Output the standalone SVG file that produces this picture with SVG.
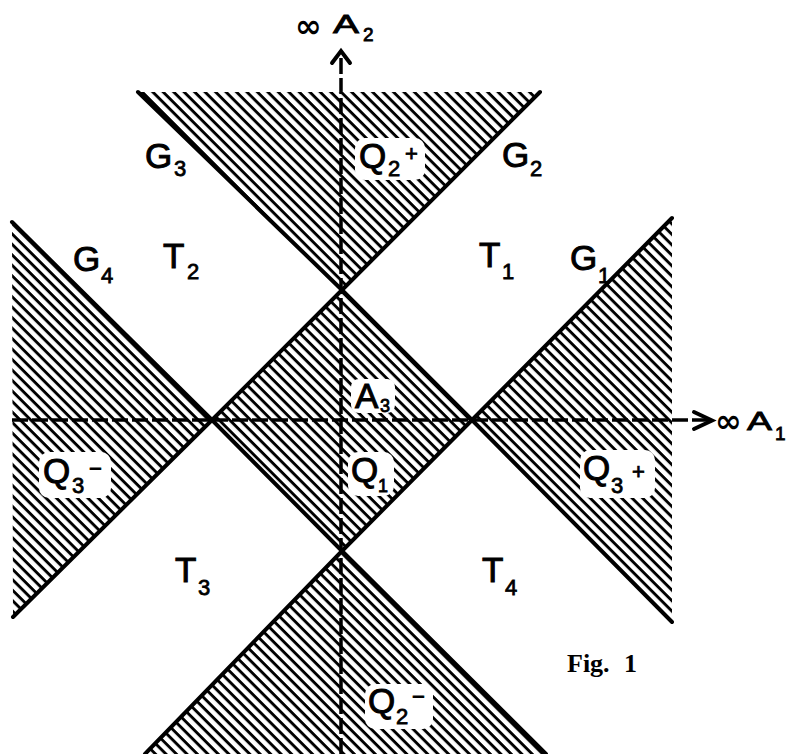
<svg xmlns="http://www.w3.org/2000/svg" width="787" height="754" viewBox="0 0 787 754">
<defs>
<pattern id="hatch" width="12" height="7.4" patternUnits="userSpaceOnUse" patternTransform="rotate(45)">
<rect x="0" y="0" width="12" height="2.9" fill="#000"/>
</pattern>
</defs>
<style>
.sh{fill:url(#hatch);stroke:none}
.bg{fill:#fff;stroke:none}
.edge{fill:none;stroke:#000;stroke-width:4;stroke-linecap:round;stroke-linejoin:round}
.axis{fill:none;stroke:#000;stroke-width:3.5;stroke-dasharray:16 4}
.head{fill:none;stroke:#000;stroke-width:4;stroke-linecap:round;stroke-linejoin:miter}
.lb{font-family:"Liberation Sans","DejaVu Sans",sans-serif;font-size:35px;fill:#000;stroke:#000;stroke-width:1}
.sb{font-family:"Liberation Sans","DejaVu Sans",sans-serif;font-size:22px;fill:#000;stroke:#000;stroke-width:0.8}
.ax{font-family:"Liberation Sans","DejaVu Sans",sans-serif;font-size:25px;fill:#000;stroke:#000;stroke-width:0.8}
.inf{font-family:"DejaVu Sans",sans-serif;font-size:32px;font-weight:bold;fill:#000}
.fig{font-family:"Liberation Serif",serif;font-size:26px;font-weight:bold;fill:#000}
</style>
<rect width="787" height="754" fill="#fff"/>
<g id="regions">
<polygon id="Q2plus" class="sh" points="138,92 540,92 342,290"/>
<polygon id="Q3minus" class="sh" points="12,222 212,420 13,617"/>
<polygon id="Q3plus" class="sh" points="672,218 672,622 472,420"/>
<polygon id="Q2minus" class="sh" points="342,551 546,754 145,754"/>
<polygon id="Q1" class="sh" points="342,290 472,420 342,551 212,420"/>
</g>
<g id="label-backgrounds">
<rect class="bg" x="355" y="138" width="70" height="42" rx="10"/>
<rect class="bg" x="351" y="379" width="44" height="34" rx="8"/>
<rect class="bg" x="348" y="452" width="46" height="44" rx="10"/>
<rect class="bg" x="39" y="452" width="72" height="46" rx="10"/>
<rect class="bg" x="580" y="450" width="75" height="48" rx="10"/>
<rect class="bg" x="365" y="684" width="68" height="45" rx="10"/>
</g>
<g id="labels">
<g id="G3"><text class="lb" x="145" y="168">G</text><text class="sb" x="174" y="176">3</text></g>
<g id="G2"><text class="lb" x="502" y="167">G</text><text class="sb" x="530" y="176">2</text></g>
<g id="Q2p"><text class="lb" x="359" y="168">Q</text><text class="sb" x="388" y="176">2</text><text class="sb" x="405" y="161">+</text></g>
<g id="G4"><text class="lb" x="73" y="271">G</text><text class="sb" x="101" y="283">4</text></g>
<g id="T2"><text class="lb" x="163" y="268">T</text><text class="sb" x="187" y="279">2</text></g>
<g id="T1"><text class="lb" x="479" y="267">T</text><text class="sb" x="502" y="279">1</text></g>
<g id="G1"><text class="lb" x="570" y="270">G</text><text class="sb" x="598" y="283">1</text></g>
<g id="A3"><text class="lb" x="355" y="408">A</text><text class="sb" x="380" y="412" style="font-size:18px">3</text></g>
<g id="Q1l"><text class="lb" x="351" y="482">Q</text><text class="sb" x="378" y="492" style="font-size:18px">1</text></g>
<g id="Q3m"><text class="lb" x="43" y="483">Q</text><text class="sb" x="72" y="493">3</text><text class="sb" x="89" y="476">−</text></g>
<g id="Q3p"><text class="lb" x="583" y="480">Q</text><text class="sb" x="611" y="493">3</text><text class="sb" x="632" y="479">+</text></g>
<g id="T3"><text class="lb" x="175" y="582">T</text><text class="sb" x="198" y="595">3</text></g>
<g id="T4"><text class="lb" x="482" y="582">T</text><text class="sb" x="505" y="595">4</text></g>
<g id="Q2m"><text class="lb" x="368" y="713">Q</text><text class="sb" x="396" y="724">2</text><text class="sb" x="412" y="704">−</text></g>
</g>
<g id="connectors">
<polyline class="edge" points="138,92 342,290 472,420 672,622"/>
<polyline class="edge" points="540,92 342,290 212,420 13,617"/>
<polyline class="edge" points="12,222 212,420 342,551 546,754"/>
<polyline class="edge" points="672,218 472,420 342,551 145,754"/>
<line class="axis" x1="341" y1="754" x2="341" y2="53"/>
<line class="axis" x1="12" y1="420" x2="711" y2="420"/>
<path class="head" d="M332,63 L341,51 L350,63"/>
<path class="head" d="M694,412 L712,420.5 L694,429"/>
</g>
<g id="axisA2"><text class="inf" x="295" y="37">∞</text><text class="ax" x="333" y="33" textLength="26" lengthAdjust="spacingAndGlyphs">A</text><text class="ax" x="363" y="41" style="font-size:19px">2</text></g>
<g id="axisA1"><text class="inf" x="715" y="432">∞</text><text class="ax" x="747" y="430" textLength="25" lengthAdjust="spacingAndGlyphs">A</text><text class="ax" x="775" y="440" style="font-size:19px">1</text></g>
<g id="caption"><text class="fig" x="567" y="672">Fig.</text><text class="fig" x="624" y="672">1</text></g>
</svg>
